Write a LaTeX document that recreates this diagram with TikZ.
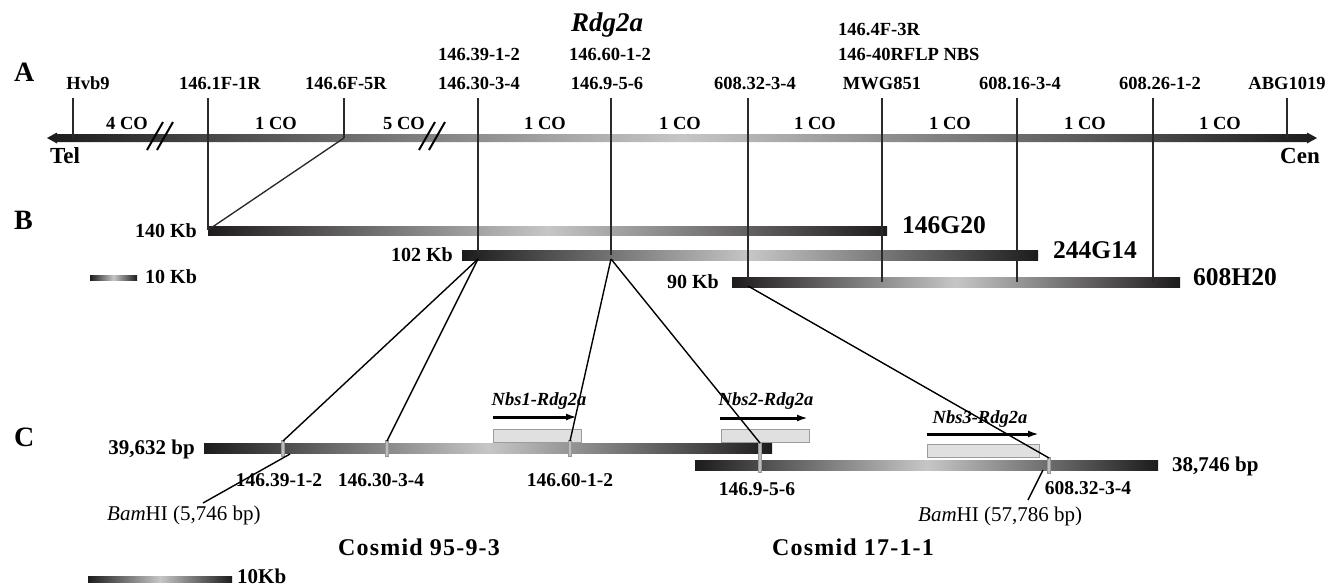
\documentclass[tikz,border=0pt]{standalone}
\usepackage{fontspec}
\setmainfont{Liberation Serif}
\usetikzlibrary{arrows.meta}
\definecolor{dk}{HTML}{1E1B1C}
\definecolor{lt}{HTML}{C6C6C6}
\definecolor{boxfill}{HTML}{E0E0E0}
\definecolor{boxline}{HTML}{9C9C9C}
\definecolor{mk}{HTML}{BDBDBD}
\definecolor{tickc}{HTML}{2A2A2A}
\begin{document}
\begin{tikzpicture}[x=1pt,y=-1pt,
  lbl/.style={font=\fontsize{18.5}{20}\selectfont\bfseries, anchor=base, inner sep=0pt},
  clbl/.style={font=\fontsize{19.5}{21}\selectfont\bfseries, anchor=base, inner sep=0pt},
  kb/.style={font=\fontsize{20}{22}\selectfont\bfseries, inner sep=0pt},
  clone/.style={font=\fontsize{25.5}{28}\selectfont\bfseries, anchor=base west, inner sep=0pt},
  panel/.style={font=\fontsize{28}{30}\selectfont\bfseries, anchor=base west, inner sep=0pt},
  gene/.style={font=\fontsize{18.5}{20}\selectfont\bfseries\itshape, anchor=base, inner sep=0pt},
  bam/.style={font=\fontsize{21}{23}\selectfont, anchor=base west, inner sep=0pt},
  cos/.style={font=\fontsize{24}{26}\selectfont\bfseries\addfontfeature{LetterSpace=5}, anchor=base, inner sep=0pt},
  bar/.style={left color=dk, right color=dk, middle color=lt},
  tick/.style={draw=tickc, line width=1.35pt},
  conn/.style={draw=black, line width=1.4pt},
  mkr/.style={fill=mk, draw=mk!80!black, line width=0.3pt},
  genebox/.style={draw=boxline, fill=boxfill, line width=0.9pt},
  genearrow/.style={draw=black, line width=3pt, -{Latex[length=11pt,width=7pt]}},
  slash/.style={draw=black, line width=2pt}
]
\useasboundingbox (0,0) rectangle (1340,587);

% ---------- Panel A ----------
\node[panel] (pA) at (14,81) {A};
\shade[bar] (47,138) -- (57,132.5) -- (57,134) -- (1307,134) -- (1307,132.5) -- (1317,138)
   -- (1307,143.5) -- (1307,142) -- (57,142) -- (57,143.5) -- cycle;
\node[font=\fontsize{23}{25}\selectfont\bfseries, anchor=base west, inner sep=0pt] (tel) at (50,163) {Tel};
\node[font=\fontsize{23}{25}\selectfont\bfseries, anchor=base east, inner sep=0pt] (cen) at (1320,163) {Cen};

\node[font=\fontsize{27}{30}\selectfont\bfseries\itshape, anchor=base, inner sep=0pt] (rdg) at (607,31) {Rdg2a};

\node[lbl] (m1) at (88,89) {Hvb9};
\node[lbl] (m2) at (220,89) {146.1F-1R};
\node[lbl] (m3) at (346,89) {146.6F-5R};
\node[lbl] (m4) at (479,89) {146.30-3-4};
\node[lbl] (m4b) at (479,60) {146.39-1-2};
\node[lbl] (m5) at (607,89) {146.9-5-6};
\node[lbl] (m5b) at (610,60) {146.60-1-2};
\node[lbl] (m6) at (755,89) {608.32-3-4};
\node[lbl] (m7) at (882,89) {MWG851};
\node[lbl, anchor=base west] (m7b) at (838,60) {146-40RFLP NBS};
\node[lbl, anchor=base west] (m7c) at (838,35) {146.4F-3R};
\node[lbl] (m8) at (1020,89) {608.16-3-4};
\node[lbl] (m9) at (1160,89) {608.26-1-2};
\node[lbl] (m10) at (1287,89) {ABG1019};

\node[lbl] (co1) at (127,129) {4 CO};
\node[lbl] (co2) at (276,129) {1 CO};
\node[lbl] (co3) at (404,129) {5 CO};
\node[lbl] (co4) at (545,129) {1 CO};
\node[lbl] (co5) at (680,129) {1 CO};
\node[lbl] (co6) at (815,129) {1 CO};
\node[lbl] (co7) at (950,129) {1 CO};
\node[lbl] (co8) at (1085,129) {1 CO};
\node[lbl] (co9) at (1220,129) {1 CO};

\draw[slash] (147,150) -- (163,122);
\draw[slash] (157,150) -- (173,122);
\draw[slash] (419,150) -- (435,122);
\draw[slash] (429,150) -- (445,122);

% ---------- Panel B ----------
\node[panel] (pB) at (14,229) {B};
\shade[bar] (208,226) rectangle (887,235);
\shade[bar] (462,250) rectangle (1038,260);
\shade[bar] (732,277) rectangle (1180,287);
\node[kb, anchor=base east] (k140) at (197,237) {140 Kb};
\node[kb, anchor=base east] (k102) at (453,261) {102 Kb};
\node[kb, anchor=base east] (k90) at (719,288) {90 Kb};
\node[clone] (b1) at (902,233) {146G20};
\node[clone] (b2) at (1053,258) {244G14};
\node[clone] (b3) at (1193,285) {608H20};
\shade[bar] (90,275) rectangle (137,280.5);
\node[kb, anchor=base west] (sb1) at (145,283) {10 Kb};

% tick coordinates
\foreach \n/\x in {1/73,2/208,3/344,4/478,5/611,6/748,7/882,8/1017,9/1153,10/1287}
  \coordinate (t\n) at (\x,98);
\coordinate (a1) at (73,138);
\coordinate (a2) at (208,230);
\coordinate (a3) at (344,138);
\coordinate (a3b) at (208,230);
\coordinate (a4) at (478,255);
\coordinate (a5) at (611,255);
\coordinate (a6) at (748,282);
\coordinate (a7) at (882,282);
\coordinate (a8) at (1017,282);
\coordinate (a9) at (1153,282);
\coordinate (a10) at (1287,138);
\foreach \n in {1,...,10} \draw[tick] (t\n) -- (a\n);
\draw[tick] (a3) -- (a3b);

% ---------- Panel C ----------
\node[panel] (pC) at (14,446) {C};
% gene boxes and arrows
\draw[genebox] (493,429) rectangle (581,442);
\draw[genebox] (721,429) rectangle (809,442);
\draw[genebox] (927,444) rectangle (1039,457);
\coordinate (g1s) at (493,417); \coordinate (g1e) at (577,417);
\coordinate (g2s) at (720,418); \coordinate (g2e) at (808,418);
\coordinate (g3s) at (927,434); \coordinate (g3e) at (1039,434);
\draw[genearrow] (g1s) -- (g1e);
\draw[genearrow] (g2s) -- (g2e);
\draw[genearrow] (g3s) -- (g3e);
\node[gene] (n1) at (539,405) {Nbs1-Rdg2a};
\node[gene] (n2) at (766,405) {Nbs2-Rdg2a};
\node[gene] (n3) at (980,423) {Nbs3-Rdg2a};

% cosmid bars
\shade[bar] (204,443) rectangle (772,453);
\shade[bar] (695,460) rectangle (1158,470);
\node[kb, font=\fontsize{21}{23}\selectfont\bfseries, anchor=base east] (c1) at (195,454) {39,632 bp};
\node[kb, font=\fontsize{21}{23}\selectfont\bfseries, anchor=base west] (c2) at (1172,471) {38,746 bp};

% markers
\path[mkr] (281.5,440) rectangle (284.5,456);
\path[mkr] (385.5,440) rectangle (388.5,456);
\path[mkr] (568.5,440) rectangle (571.5,456);
\path[mkr] (758.5,443) rectangle (761.5,472);
\path[mkr] (1047.5,457) rectangle (1050.5,473);

\node[clbl] (cm1) at (279,486) {146.39-1-2};
\node[clbl] (cm2) at (381,486) {146.30-3-4};
\node[clbl] (cm3) at (570,486) {146.60-1-2};
\node[clbl] (cm4) at (757,495) {146.9-5-6};
\node[clbl] (cm5) at (1088,494) {608.32-3-4};

\node[bam] (bam1) at (107,520) {\textit{Bam}HI (5,746 bp)};
\node[bam] (bam2) at (918,521) {\textit{Bam}HI (57,786 bp)};
\coordinate (bm1a) at (203,503); \coordinate (bm1b) at (290,454);
\coordinate (bm2a) at (1028,500); \coordinate (bm2b) at (1043,470);
\draw[conn] (bm1a) -- (bm1b);
\draw[conn] (bm2a) -- (bm2b);

% connectors B -> C
\coordinate (s4) at (478,259);
\coordinate (s5) at (611,259);
\coordinate (s6) at (748,286);
\coordinate (e1) at (283,441);
\coordinate (e2) at (387,441);
\coordinate (e3) at (570,441);
\coordinate (e4) at (760,443);
\coordinate (e5) at (1049,458);
\draw[conn] (s4) -- (e1);
\draw[conn] (s4) -- (e2);
\draw[conn] (s5) -- (e3);
\draw[conn] (s5) -- (e4);
\draw[conn] (s6) -- (e5);

\node[cos] (cos1) at (419,555) {Cosmid 95-9-3};
\node[cos] (cos2) at (853,555) {Cosmid 17-1-1};

\shade[bar] (88,576) rectangle (232,582);
\node[kb, font=\fontsize{21}{23}\selectfont\bfseries, anchor=base west] (sb2) at (237,583) {10Kb};
\end{tikzpicture}
\end{document}
